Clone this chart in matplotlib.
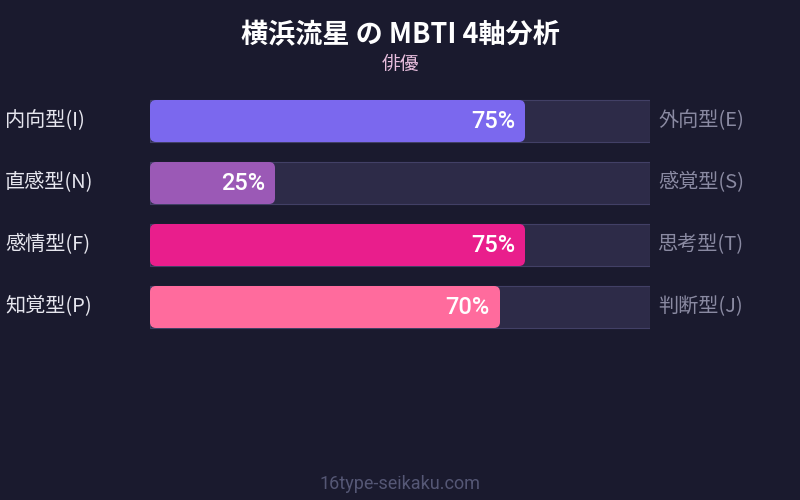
import matplotlib.pyplot as plt
from matplotlib.patches import FancyBboxPatch
from matplotlib.transforms import blended_transform_factory

plt.rcParams['font.family'] = ['Noto Sans CJK JP', 'DejaVu Sans']

title = '横浜流星 の MBTI 4軸分析'
subtitle = '俳優'
left_labels = ['内向型(I)', '直感型(N)', '感情型(F)', '知覚型(P)']
right_labels = ['外向型(E)', '感覚型(S)', '思考型(T)', '判断型(J)']
values = [75, 25, 75, 70]
colors = ['#7b68ee', '#9b59b6', '#e91e8c', '#ff6b9d']

bg = '#1a1a2e'
fig = plt.figure(figsize=(8, 5), dpi=100, facecolor=bg)

# bar area: x 150..650 px, rows centred 121,183,245,307 px
ax = fig.add_axes([150 / 800, 1 - 338 / 500, 500 / 800, 248 / 500])
ax.set_facecolor(bg)
ax.set_xlim(0, 100)
ax.set_ylim(3.5, -0.5)
ax.axis('off')

h = 42 / 62
px_x = 5.0   # px per x unit
px_y = 62.0  # px per y unit

# background tracks
ax.barh(range(len(values)), [100] * len(values), height=h, left=0,
        color='#2d2b48', edgecolor='#424066', linewidth=0.8)

# filled parts with rounded corners
r = 6 / px_x
for i, (v, c) in enumerate(zip(values, colors)):
    p = FancyBboxPatch((0, i - h / 2), v, h,
                       boxstyle=f'round,pad=0,rounding_size={r}',
                       mutation_aspect=px_x / px_y,
                       facecolor=c, edgecolor='none', zorder=3)
    ax.add_patch(p)
    ax.text(v - 10 / px_x, i, f'{v}%', ha='right', va='center',
            color='white', fontsize=17, fontweight='medium',
            family=['Roboto', 'DejaVu Sans'], zorder=4)

trans = blended_transform_factory(fig.transFigure, ax.transData)
for i, (ll, rl) in enumerate(zip(left_labels, right_labels)):
    ax.text(5 / 800, i, ll, transform=trans, ha='left', va='center',
            color='#e6e6ee', fontsize=14.5)
    ax.text(658 / 800, i, rl, transform=trans, ha='left', va='center',
            color='#8a8aa2', fontsize=14.5)

fig.text(0.5, 1 - 35 / 500, title, ha='center', va='center',
         color='white', fontsize=19.5, fontweight='bold')
fig.text(0.5, 1 - 64 / 500, subtitle, ha='center', va='center',
         color='#e8bede', fontsize=13.5)
fig.text(0.5, 1 - 484 / 500, '16type-seikaku.com', ha='center', va='center',
         color='#555775', fontsize=13, family=['Roboto', 'DejaVu Sans'])

fig.savefig('out.png', dpi=100, facecolor=bg)
